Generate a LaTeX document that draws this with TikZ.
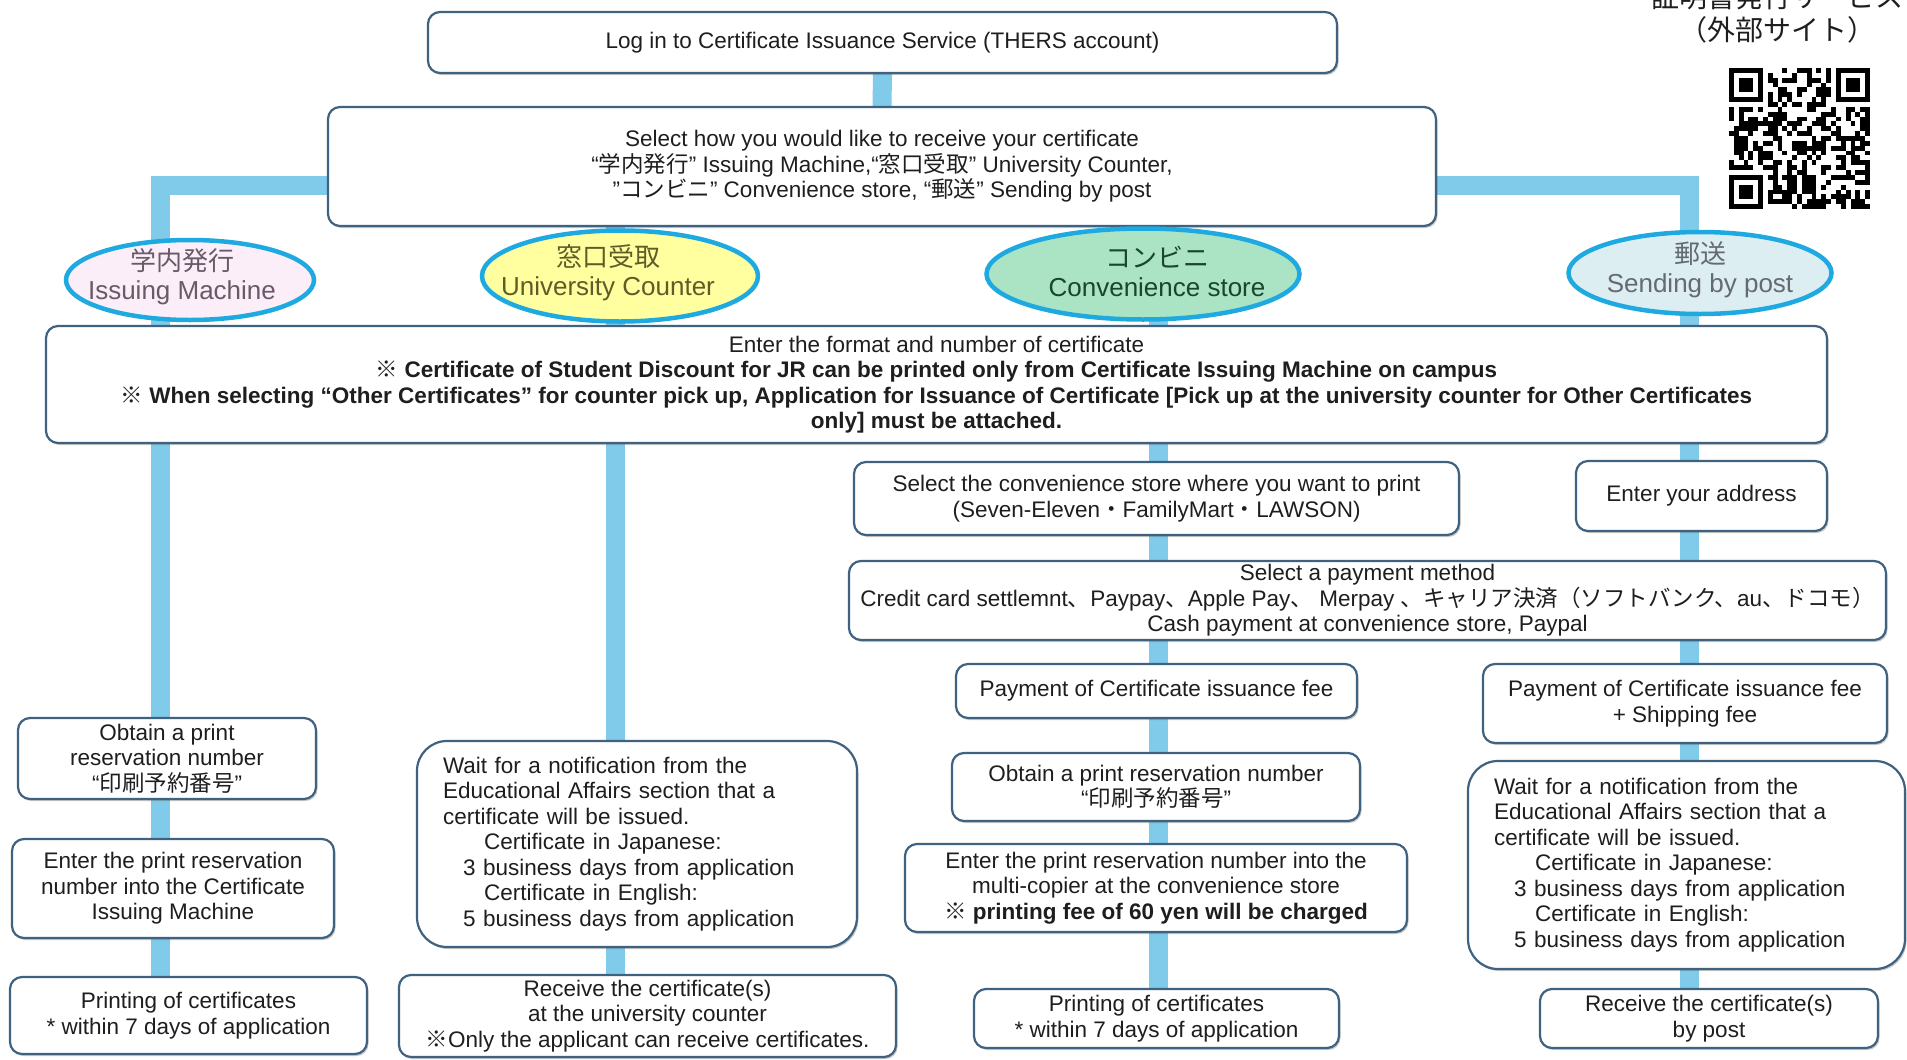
\documentclass[tikz,border=0pt]{standalone}
\usepackage{fontspec}
\setmainfont{Liberation Sans}
\newfontfamily\jpfont{Noto Sans CJK JP}
\newcommand{\ja}[1]{{\jpfont #1}}
\usetikzlibrary{shapes.geometric, positioning, shadows}
\pgfdeclarelayer{background}
\pgfsetlayers{background,main}
\definecolor{ink}{RGB}{30,30,30}
\definecolor{boxline}{RGB}{62,98,128}
\definecolor{flowline}{RGB}{128,203,234}
\definecolor{wayline}{RGB}{30,170,225}
\definecolor{machinefill}{RGB}{252,238,248}
\definecolor{machinetext}{RGB}{105,90,105}
\definecolor{counterfill}{RGB}{255,255,160}
\definecolor{countertext}{RGB}{95,92,40}
\definecolor{storefill}{RGB}{170,228,196}
\definecolor{storetext}{RGB}{25,70,45}
\definecolor{postfill}{RGB}{220,238,242}
\definecolor{posttext}{RGB}{100,106,112}

\begin{document}
\begin{tikzpicture}[
  x=1pt, y=-1pt,
  every node/.style={
    text=ink,
    font=\fontsize{22.5}{25.5}\selectfont
  },
  stepbox/.style={
    rectangle,
    rounded corners=12pt,
    draw=boxline, line width=2.2pt,
    fill=white,
    inner sep=0pt,
    align=center,
    drop shadow={shadow xshift=1.5pt, shadow yshift=-2pt, opacity=.35, fill=black!60}
  },
  waitbox/.style={stepbox, rounded corners=30pt, align=left, inner xsep=26pt},
  way/.style={ellipse, draw=wayline, line width=4.5pt, inner sep=0pt},
  waylabel/.style={align=center, yshift=3pt, font=\fontsize{26}{29}\selectfont},
  myline/.style={draw=flowline, line width=19pt}
  ]
\useasboundingbox (0,0) rectangle (1907,1060);

% column positions of the flow lines
\coordinate (c1) at (160,0);
\coordinate (c2) at (615,0);
\coordinate (c3) at (1158,0);
\coordinate (c4) at (1689,0);

% common steps
\node[stepbox, minimum width=909pt, minimum height=61pt] (login) at (882.5,42.5)
  {Log in to Certificate Issuance Service (THERS account)};
\node[stepbox, minimum width=1108pt, minimum height=119pt] (select) at (882,166.5)
  {Select how you would like to receive your certificate\\
   “\ja{学内発行}” Issuing Machine,“\ja{窓口受取}” University Counter,\\
   "\ja{コンビニ}" Convenience store, “\ja{郵送}” Sending by post};

% the four ways
\node[way, fill=machinefill, minimum width=248pt, minimum height=80pt,
  label={[waylabel, xshift=-8pt, text=machinetext]center:{\ja{学内発行}\\Issuing Machine}}] (machine) at (190,280) {};
\node[way, fill=counterfill, minimum width=276pt, minimum height=91pt,
  label={[waylabel, xshift=-12pt, text=countertext]center:{\ja{窓口受取}\\University Counter}}] (counter) at (620,276) {};
\node[way, fill=storefill, minimum width=313pt, minimum height=91pt,
  label={[waylabel, xshift=14pt, text=storetext]center:{\ja{コンビニ}\\Convenience store}}] (store) at (1143,274) {};
\node[way, fill=postfill, minimum width=263pt, minimum height=82pt,
  label={[waylabel, text=posttext]center:{\ja{郵送}\\Sending by post}}] (post) at (1700,273) {};

\node[stepbox, minimum width=1781pt, minimum height=117pt] (enter) at (936.5,384.5)
  {Enter the format and number of certificate\\
   \textbf{\ja{※} Certificate of Student Discount for JR can be printed only from Certificate Issuing Machine on campus}\\
   \textbf{\ja{※} When selecting “Other Certificates” for counter pick up, Application for Issuance of Certificate [Pick up at the university counter for Other Certificates}\\
   \textbf{only] must be attached.}};

% issuing machine
\node[stepbox, minimum width=298pt, minimum height=81pt] (obtain1) at (167,758.5)
  {Obtain a print\\reservation number\\“\ja{印刷予約番号}”};
\node[stepbox, minimum width=322pt, minimum height=99pt] (input1) at (173,888.5)
  {Enter the print reservation\\number into the Certificate\\Issuing Machine};
\node[stepbox, minimum width=357pt, minimum height=77pt] (print1) at (188.5,1015.5)
  {Printing of certificates\\* within 7 days of application};

% university counter
\node[waitbox, text width=388pt, minimum height=206pt] (wait2) at (637,844)
  {Wait for a notification from the\\
   Educational Affairs section that a\\
   certificate will be issued.\\
   \hspace*{41pt}Certificate in Japanese:\\
   \hspace*{20pt}3 business days from application\\
   \hspace*{41pt}Certificate in English:\\
   \hspace*{20pt}5 business days from application};
\node[stepbox, minimum width=497pt, minimum height=82pt] (receive2) at (647.5,1016)
  {Receive the certificate(s)\\at the university counter\\\ja{※}Only the applicant can receive certificates.};

% convenience store
\node[stepbox, minimum width=605pt, minimum height=73pt] (store3) at (1156.5,498.5)
  {Select the convenience store where you want to print\\(Seven-Eleven\ja{・}FamilyMart\ja{・}LAWSON)};
\node[stepbox, minimum width=1037pt, minimum height=79pt] (pay) at (1367.5,600.5)
  {Select a payment method\\
   Credit card settlemnt\ja{、}Paypay\ja{、}Apple Pay\ja{、} Merpay \ja{、キャリア決済（ソフトバンク、}au\ja{、ドコモ）}\\
   Cash payment at convenience store, Paypal};
\node[stepbox, minimum width=401pt, minimum height=54pt] (fee3) at (1156.5,691)
  {Payment of Certificate issuance fee};
\node[stepbox, minimum width=408pt, minimum height=68pt] (obtain3) at (1156,787)
  {Obtain a print reservation number\\“\ja{印刷予約番号}”};
\node[stepbox, minimum width=502pt, minimum height=88pt] (input3) at (1156,888)
  {Enter the print reservation number into the\\multi-copier at the convenience store\\
   \textbf{\ja{※} printing fee of 60 yen will be charged}};
\node[stepbox, minimum width=365pt, minimum height=59pt] (print3) at (1156.5,1018.5)
  {Printing of certificates\\* within 7 days of application};

% sending by post
\node[stepbox, minimum width=251pt, minimum height=70pt] (address4) at (1701.5,496)
  {Enter your address};
\node[stepbox, minimum width=404pt, minimum height=79pt] (fee4) at (1685,703.5)
  {Payment of Certificate issuance fee\\+ Shipping fee};
\node[waitbox, text width=385pt, minimum height=208pt] (wait4) at (1686.5,865)
  {Wait for a notification from the\\
   Educational Affairs section that a\\
   certificate will be issued.\\
   \hspace*{41pt}Certificate in Japanese:\\
   \hspace*{20pt}3 business days from application\\
   \hspace*{41pt}Certificate in English:\\
   \hspace*{20pt}5 business days from application};
\node[stepbox, minimum width=338pt, minimum height=59pt] (receive4) at (1709,1018.5)
  {Receive the certificate(s)\\by post};

% external site
\node[align=center, font=\fontsize{28}{33}\selectfont] (site) at (1777,13.5)
  {\ja{証明書発行サービス}\\\ja{（外部サイト）}};
\def\qrmod{4.86}
\begin{scope}[shift={(1729,68)}]
  \pgfmathsetseed{42}
  \foreach \i in {0,...,28}{
    \foreach \j in {0,...,28}{
      \pgfmathtruncatemacro\infinder{((\i<8)&&(\j<8))||((\i>20)&&(\j<8))||((\i<8)&&(\j>20))}
      \ifnum\infinder=0
        \pgfmathtruncatemacro\dark{rnd<0.5}
        \ifnum\dark=1 \fill (\i*\qrmod,\j*\qrmod) rectangle ++(\qrmod,\qrmod); \fi
      \fi
    }
  }
  \foreach \fx/\fy in {0/0, 22/0, 0/22}{
    \fill (\fx*\qrmod,\fy*\qrmod) rectangle ++(7*\qrmod,7*\qrmod);
    \fill[white] (\fx*\qrmod+\qrmod,\fy*\qrmod+\qrmod) rectangle ++(5*\qrmod,5*\qrmod);
    \fill (\fx*\qrmod+2*\qrmod,\fy*\qrmod+2*\qrmod) rectangle ++(3*\qrmod,3*\qrmod);
  }
\end{scope}

\begin{pgfonlayer}{background}
\fill[white] (0,0) rectangle (1907,1060);
\path[myline] (login.south) edge (select.north)
              (select.south -| c2) edge (enter.north -| c2)
              (select.south -| c3) edge (enter.north -| c3);
\draw[myline] ([yshift=-19pt]select.west) -| (enter.north -| c1);
\draw[myline] ([yshift=-19pt]select.east) -| (enter.north -| c4);
\foreach \a/\b in {enter/obtain1, obtain1/input1, input1/print1}
  \draw[myline] (\a.south -| c1) -- (\b.north -| c1);
\foreach \a/\b in {enter/wait2, wait2/receive2}
  \draw[myline] (\a.south -| c2) -- (\b.north -| c2);
\foreach \a/\b in {enter/store3, store3/pay, pay/fee3, fee3/obtain3, obtain3/input3, input3/print3}
  \draw[myline] (\a.south -| c3) -- (\b.north -| c3);
\foreach \a/\b in {enter/address4, address4/pay, pay/fee4, fee4/wait4, wait4/receive4}
  \draw[myline] (\a.south -| c4) -- (\b.north -| c4);
\end{pgfonlayer}
\end{tikzpicture}
\end{document}
